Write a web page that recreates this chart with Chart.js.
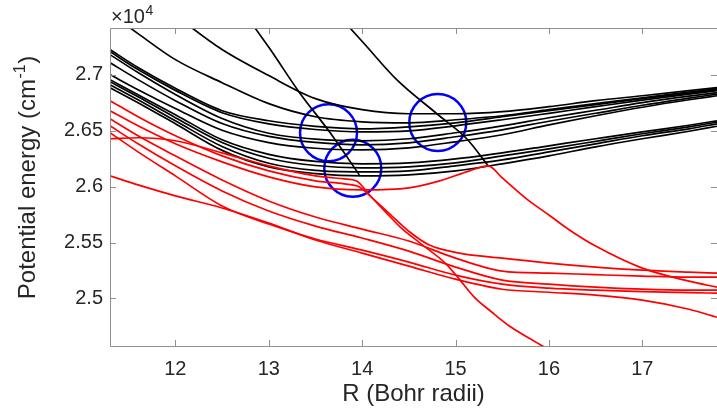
<!DOCTYPE html>
<html>
<head>
<meta charset="utf-8">
<script src="https://cdn.jsdelivr.net/npm/chart.js@4.4.0/dist/chart.umd.min.js"></script>
<style>
  html, body { margin: 0; padding: 0; background: #fff; }
</style>
</head>
<body>
<canvas id="pec" width="717" height="412"></canvas>
<script>
// Internuclear distance grid (Bohr) shared by most curves
const R = [11.3, 11.6, 12, 12.5, 13, 13.5, 14, 14.5, 15, 15.5, 16, 16.5, 17, 17.5, 17.8];

// Axis ticks
const rTicks = [12, 13, 14, 15, 16, 17];
const eTicks = [25000, 25500, 26000, 26500, 27000];
const eLabels = ["2.5", "2.55", "2.6", "2.65", "2.7"];

// Black potential curves (cm^-1) on the R grid
const black1 = [27227, 27066, 26880, 26680, 26590, 26540, 26518, 26536, 26572, 26626, 26680, 26734, 26788, 26837, 26868];
const black2 = [27209, 27048, 26862, 26662, 26562, 26512, 26491, 26500, 26545, 26599, 26657, 26716, 26774, 26828, 26859];
const black3 = [27182, 27021, 26825, 26610, 26478, 26425, 26411, 26429, 26483, 26545, 26617, 26684, 26752, 26810, 26841];
const black4 = [27110, 26958, 26770, 26565, 26450, 26396, 26375, 26393, 26447, 26509, 26586, 26657, 26729, 26792, 26828];
const black5 = [27003, 26868, 26700, 26505, 26395, 26344, 26330, 26348, 26402, 26465, 26554, 26635, 26711, 26778, 26814];
const black6 = [26958, 26823, 26645, 26420, 26290, 26226, 26205, 26213, 26249, 26303, 26366, 26429, 26491, 26550, 26590];
const black7 = [26940, 26805, 26618, 26395, 26255, 26190, 26169, 26178, 26213, 26276, 26339, 26406, 26474, 26536, 26577];
const black8 = [26913, 26778, 26590, 26360, 26210, 26146, 26133, 26142, 26187, 26240, 26312, 26384, 26456, 26518, 26563];
const black9 = [26886, 26752, 26563, 26325, 26178, 26118, 26097, 26106, 26142, 26205, 26276, 26357, 26429, 26496, 26541];
const top1 = [null, null, 27532, 27227, 26994, 26788, 26689, 26653, 26653, 26671, 26716, 26770, 26814, 26859, 26886];
const top2 = [27550, 27370, 27137, 26931, 26743, 26626, 26581, 26572, 26599, 26635, 26689, 26743, 26796, 26846, 26877];

// Steep black states
const rSteepL = [12.67, 13.01, 13.33, 13.65, 13.97];
const eSteepL = [27631, 27236, 26841, 26491, 26106];
const rSteepR = [13.71, 14.03, 14.37, 14.80, 15.12, 15.35];
const eSteepR = [27568, 27272, 26958, 26653, 26429, 26187];

// Red potential curves on the R grid
const red1 = [26608, 26456, 26276, 26061, 25873, 25729, 25621, 25514, 25361, 25245, 25227, 25213, 25200, 25191, 25191];
const red2 = [26545, 26384, 26187, 25962, 25783, 25648, 25541, 25424, 25281, 25164, 25128, 25101, 25083, 25074, 25074];
const red3 = [26483, 26312, 26097, 25828, 25666, 25532, 25433, 25326, 25209, 25128, 25092, 25074, 25061, 25052, 25048];
const red4 = [26097, 26016, 25918, 25810, 25675, 25523, 25406, 25290, 25173, 25083, 25056, 25030, 24985, 24904, 24832];

// Red curves with their own R points (kinks at the crossings)
const rRedA = [11.3, 11.6, 12, 12.5, 13, 13.5, 13.81, 13.94, 14.08, 14.24, 14.42, 14.62, 14.9, 15.04, 15.2, 15.39, 15.58, 15.79, 16.01];
const eRedA = [26429, 26438, 26411, 26303, 26187, 26097, 26070, 26052, 25926, 25783, 25630, 25496, 25308, 25173, 25012, 24877, 24752, 24644, 24536];
const rRedB = [11.3, 11.6, 12, 12.5, 13, 13.5, 13.81, 13.97, 14.13, 14.32, 14.51, 14.72, 15.04, 15.5, 16, 16.5, 17, 17.5, 17.8];
const eRedB = [26770, 26626, 26456, 26276, 26142, 26052, 26025, 25998, 25882, 25738, 25595, 25478, 25406, 25361, 25317, 25281, 25254, 25236, 25227];
const rRedC = [11.3, 11.6, 12, 12.5, 13, 13.5, 14, 14.5, 14.83, 15.15, 15.35, 15.5, 15.76, 16, 16.22, 16.5, 17, 17.5, 17.8];
const eRedC = [26680, 26545, 26384, 26222, 26088, 25998, 25971, 25989, 26052, 26142, 26187, 26079, 25891, 25747, 25613, 25469, 25272, 25155, 25101];

// Avoided-crossing markers
const circR = [13.64, 13.9, 14.81];
const circE = [26483, 26166, 26575];

const textColor = "#262626";
const axisColor = "#8f8f8f";
const fontFamily = "'Liberation Sans', Arial, sans-serif";

function pts(xs, ys) {
    const out = [];
    xs.forEach((x, i) => {
        if (ys[i] !== null) out.push({ x: x, y: ys[i] });
    });
    return out;
}

function curve(xs, ys, color) {
    return {
        data: pts(xs, ys),
        showLine: true,
        borderColor: color,
        borderWidth: 1.7,
        pointRadius: 0,
        cubicInterpolationMode: "monotone"
    };
}

const datasets = [
    curve(R, red1, "#ff0000"),
    curve(R, red2, "#ff0000"),
    curve(R, red3, "#ff0000"),
    curve(R, red4, "#ff0000"),
    curve(rRedA, eRedA, "#ff0000"),
    curve(rRedB, eRedB, "#ff0000"),
    curve(rRedC, eRedC, "#ff0000"),
    curve(R, black1, "#000000"),
    curve(R, black2, "#000000"),
    curve(R, black3, "#000000"),
    curve(R, black4, "#000000"),
    curve(R, black5, "#000000"),
    curve(R, black6, "#000000"),
    curve(R, black7, "#000000"),
    curve(R, black8, "#000000"),
    curve(R, black9, "#000000"),
    curve(R, top1, "#000000"),
    curve(R, top2, "#000000"),
    curve(rSteepL, eSteepL, "#000000"),
    curve(rSteepR, eSteepR, "#000000"),
    {
        data: pts(circR, circE),
        showLine: false,
        pointStyle: "circle",
        pointRadius: 28.5,
        pointBorderWidth: 2.5,
        pointBorderColor: "#0000ff",
        pointBackgroundColor: "rgba(0,0,0,0)"
    }
];

// Box, inward tick marks, exponent label and the y title with its superscript
const frame = {
    id: "frame",
    afterDatasetsDraw(chart) {
        const { ctx, chartArea: a, scales: { x, y } } = chart;
        ctx.save();
        ctx.strokeStyle = axisColor;
        ctx.lineWidth = 1;
        ctx.beginPath();
        ctx.rect(Math.round(a.left) + 0.5, Math.round(a.top) + 0.5, a.right - a.left, a.bottom - a.top);
        rTicks.forEach(v => {
            const px = Math.round(x.getPixelForValue(v)) + 0.5;
            ctx.moveTo(px, a.bottom); ctx.lineTo(px, a.bottom - 6);
            ctx.moveTo(px, a.top); ctx.lineTo(px, a.top + 6);
        });
        eTicks.forEach(v => {
            const py = Math.round(y.getPixelForValue(v)) + 0.5;
            ctx.moveTo(a.left, py); ctx.lineTo(a.left + 6, py);
            ctx.moveTo(a.right, py); ctx.lineTo(a.right - 6, py);
        });
        ctx.stroke();

        ctx.fillStyle = textColor;
        ctx.textAlign = "left";
        ctx.textBaseline = "alphabetic";
        ctx.font = "20px " + fontFamily;
        ctx.fillText("\u00d710", a.left + 1, 23);
        const w = ctx.measureText("\u00d710").width;
        ctx.font = "14px " + fontFamily;
        ctx.fillText("4", a.left + 1 + w + 0.5, 15);

        // y title, drawn bottom-to-top
        const big = "24px " + fontFamily;
        const small = "16px " + fontFamily;
        const main = "Potential energy (cm";
        ctx.font = big;
        const wMain = ctx.measureText(main).width;
        const wEnd = ctx.measureText(")").width;
        ctx.font = small;
        const wSup = ctx.measureText("-1").width;
        ctx.translate(35, 178);
        ctx.rotate(-Math.PI / 2);
        const x0 = -(wMain + wSup + wEnd) / 2;
        ctx.font = big;
        ctx.fillText(main, x0, 0);
        ctx.fillText(")", x0 + wMain + wSup + 1, 0);
        ctx.font = small;
        ctx.fillText("-1", x0 + wMain + 0.5, -10);
        ctx.restore();
    }
};

new Chart(document.getElementById("pec"), {
    type: "scatter",
    data: { datasets },
    plugins: [frame],
    options: {
        responsive: false,
        animation: false,
        devicePixelRatio: 1,
        events: [],
        layout: { autoPadding: false, padding: { left: 10, top: 28, right: 0, bottom: 0 } },
        plugins: { legend: { display: false }, tooltip: { enabled: false } },
        scales: {
            x: {
                type: "linear",
                min: 11.3,
                max: 17.8,
                grid: { display: false, drawTicks: false },
                border: { display: false },
                afterBuildTicks: axis => { axis.ticks = rTicks.map(v => ({ value: v })); },
                afterFit: axis => { axis.height = 66; },
                ticks: {
                    color: textColor,
                    padding: 11,
                    maxRotation: 0,
                    autoSkip: false,
                    font: { family: fontFamily, size: 20 }
                },
                title: {
                    display: true,
                    text: "R (Bohr radii)",
                    color: textColor,
                    padding: { top: 0, bottom: 3 },
                    font: { family: fontFamily, size: 24 }
                }
            },
            y: {
                type: "linear",
                min: 24575,
                max: 27420,
                grid: { display: false, drawTicks: false },
                border: { display: false },
                afterBuildTicks: axis => { axis.ticks = eTicks.map(v => ({ value: v })); },
                afterFit: axis => { axis.width = 100; },
                ticks: {
                    color: textColor,
                    padding: 7,
                    autoSkip: false,
                    font: { family: fontFamily, size: 20 },
                    callback: v => eLabels[eTicks.indexOf(v)]
                },
                title: { display: false }
            }
        }
    }
});
</script>
</body>
</html>
